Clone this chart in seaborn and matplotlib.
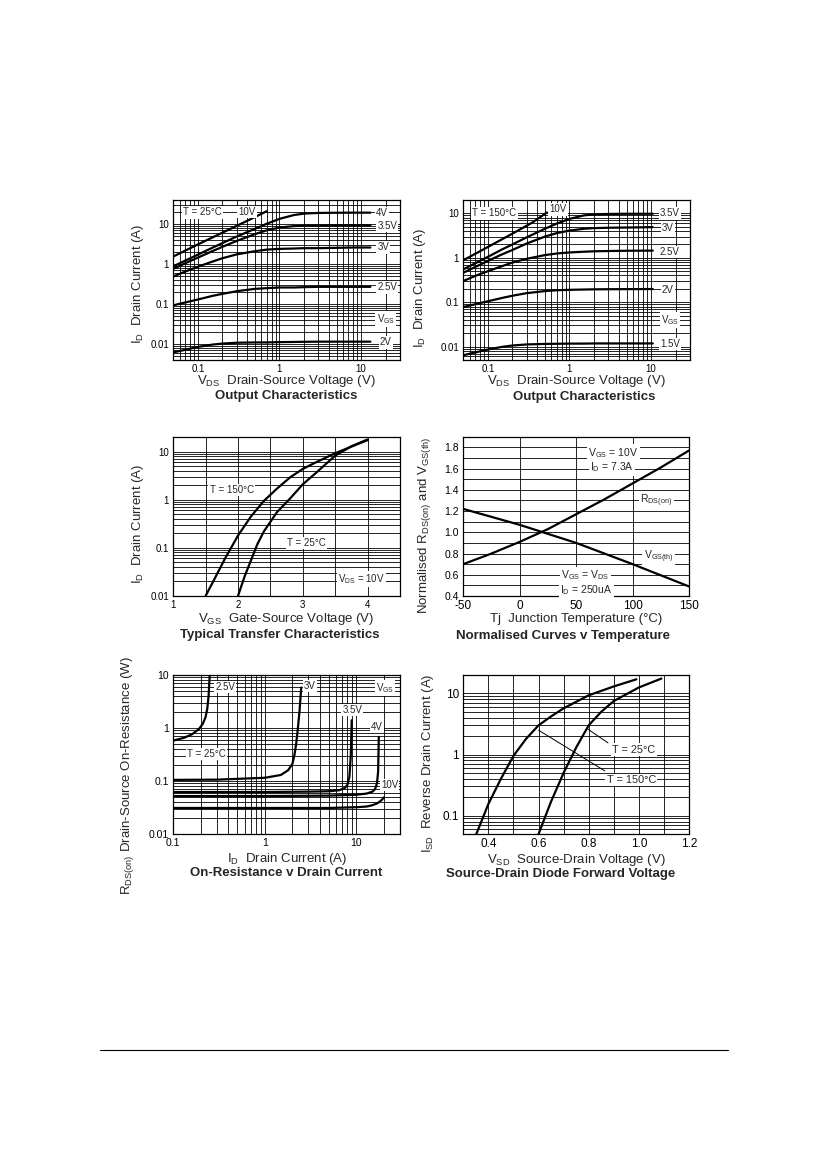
import matplotlib
matplotlib.use("Agg")
import matplotlib.pyplot as plt
import numpy as np
import seaborn as sns
from matplotlib.lines import Line2D
from matplotlib.ticker import FuncFormatter, LogLocator, MultipleLocator, NullFormatter

# ---- Output characteristics, T = 25C ----
vds_25 = [0.05, 0.07, 0.1, 0.15, 0.2, 0.3, 0.5, 0.7, 1, 1.5, 2, 3, 5, 8, 13]
vds_25_10v = [0.05, 0.1, 0.2, 0.4, 0.7]
id_25_10v = [1.55, 3.1, 6.1, 12, 21]
id_25_4v = [0.88, 1.22, 1.72, 2.55, 3.35, 4.9, 7.6, 10.2, 13.5, 16.8, 18.3, 19, 19.2, 19.3, 19.3]
id_25_35v = [0.76, 1.05, 1.45, 2.1, 2.7, 3.8, 5.6, 7.0, 8.2, 8.9, 9.1, 9.2, 9.3, 9.3, 9.3]
id_25_3v = [0.49, 0.65, 0.86, 1.15, 1.4, 1.75, 2.1, 2.3, 2.4, 2.45, 2.5, 2.5, 2.55, 2.6, 2.6]
id_25_25v = [0.093, 0.11, 0.13, 0.16, 0.18, 0.21, 0.24, 0.25, 0.26, 0.26, 0.265, 0.27, 0.27, 0.27, 0.27]
id_25_2v = [0.0062, 0.0072, 0.0085, 0.0097, 0.0103, 0.0108, 0.011, 0.011, 0.0112, 0.0113,
            0.0114, 0.0115, 0.0115, 0.0115, 0.0115]

# ---- Output characteristics, T = 150C ----
vds_150 = [0.05, 0.07, 0.1, 0.15, 0.2, 0.3, 0.5, 0.7, 1, 1.5, 2, 3, 5, 10.5]
vds_150_10v = [0.05, 0.1, 0.2, 0.35, 0.53]
id_150_10v = [0.88, 1.75, 3.5, 6.2, 10.5]
id_150_35v = [0.55, 0.75, 1.05, 1.55, 2.0, 2.9, 4.5, 5.9, 7.5, 9.0, 9.5, 9.7, 9.8, 9.8]
id_150_3v = [0.46, 0.62, 0.85, 1.2, 1.5, 2.1, 3.0, 3.6, 4.1, 4.5, 4.65, 4.75, 4.8, 4.9]
id_150_25v = [0.30, 0.39, 0.5, 0.65, 0.78, 0.95, 1.15, 1.25, 1.32, 1.37, 1.4, 1.42, 1.44, 1.45]
id_150_2v = [0.078, 0.09, 0.105, 0.125, 0.14, 0.16, 0.178, 0.186, 0.19, 0.193, 0.195, 0.196, 0.197, 0.198]
id_150_15v = [0.0064, 0.0074, 0.0086, 0.0099, 0.0106, 0.0112, 0.0115, 0.0116, 0.0117, 0.0117,
              0.0118, 0.0118, 0.0118, 0.0118]

# ---- Transfer characteristics ----
vgs_150 = [1.5, 1.6, 1.8, 2.0, 2.2, 2.4, 2.6, 2.8, 3.0, 3.2, 3.5, 3.75, 4.0]
id_tr_150 = [0.01, 0.018, 0.06, 0.18, 0.45, 0.95, 1.7, 2.9, 4.4, 6.0, 9.3, 12.8, 17.5]
vgs_25 = [2.0, 2.1, 2.2, 2.3, 2.4, 2.6, 2.8, 3.0, 3.2, 3.5, 3.75, 4.0]
id_tr_25 = [0.01, 0.025, 0.055, 0.12, 0.22, 0.55, 1.05, 2.1, 3.6, 8.3, 13, 18]

# ---- Normalised curves v temperature ----
tj = [-50, -25, 0, 25, 50, 75, 100, 125, 150]
rds_norm = [0.70, 0.80, 0.91, 1.03, 1.17, 1.31, 1.46, 1.61, 1.77]
vth_norm = [1.22, 1.145, 1.07, 0.985, 0.90, 0.80, 0.70, 0.595, 0.49]

# ---- On-resistance v drain current ----
id_r25v = [0.1, 0.13, 0.16, 0.19, 0.21, 0.225, 0.235, 0.243, 0.25]
r_25v = [0.58, 0.65, 0.76, 0.95, 1.2, 1.6, 2.3, 4.0, 10]
id_r3v = [0.1, 0.3, 1.0, 1.5, 1.8, 2.0, 2.1, 2.2, 2.3, 2.4, 2.5]
r_3v = [0.105, 0.106, 0.115, 0.13, 0.16, 0.21, 0.3, 0.5, 1.0, 2.2, 5.8]
id_r35v = [0.1, 1, 3, 5, 6.5, 7.5, 8.0, 8.4, 8.7, 8.9]
r_35v = [0.062, 0.062, 0.063, 0.064, 0.067, 0.074, 0.085, 0.12, 0.3, 1.4]
id_r4v = [0.1, 1, 5, 10, 13, 15, 16, 16.8, 17.3, 17.6]
r_4v = [0.052, 0.052, 0.053, 0.055, 0.058, 0.063, 0.07, 0.09, 0.15, 0.68]
id_r10v = [0.1, 1, 5, 10, 13, 15, 17, 19, 20]
r_10v = [0.031, 0.031, 0.031, 0.032, 0.033, 0.035, 0.038, 0.044, 0.049]

# ---- Source-drain diode forward voltage ----
vsd_150 = [0.352, 0.4, 0.45, 0.5, 0.55, 0.6, 0.65, 0.7, 0.8, 0.9, 0.99]
isd_150 = [0.05, 0.155, 0.4, 0.95, 1.8, 3.0, 4.2, 5.7, 9.3, 13, 17]
vsd_25 = [0.6, 0.65, 0.7, 0.75, 0.8, 0.85, 0.9, 1.0, 1.09]
isd_25 = [0.05, 0.17, 0.5, 1.3, 3.0, 5.0, 7.5, 12.5, 17.5]

sns.set_theme(style="white")
plt.rcParams["font.family"] = ["Liberation Sans", "DejaVu Sans"]
plt.rcParams["mathtext.fontset"] = "custom"
plt.rcParams["mathtext.rm"] = "Liberation Sans"
plt.rcParams["mathtext.it"] = "Liberation Sans"
plt.rcParams["mathtext.bf"] = "Liberation Sans:bold"
plt.rcParams["mathtext.default"] = "regular"

LW = 1.6
LABEL = 9.5
NOTE = 7
BOX = dict(boxstyle="square,pad=0.12", fc="white", ec="none")
fmt_g = FuncFormatter(lambda v, p: f"{v:g}")
fmt_1 = FuncFormatter(lambda v, p: f"{v:.1f}")


def frame(ax, xlim, ylim, xlog=True, ylog=True, tick_size=7, xtick_size=None):
    if xlog:
        ax.set_xscale("log")
    if ylog:
        ax.set_yscale("log")
    ax.set_xlim(xlim)
    ax.set_ylim(ylim)
    for axis, log in ((ax.xaxis, xlog), (ax.yaxis, ylog)):
        if log:
            axis.set_major_locator(LogLocator(base=10))
            axis.set_minor_locator(LogLocator(base=10, subs=np.arange(2, 10), numticks=20))
            axis.set_major_formatter(fmt_g)
            axis.set_minor_formatter(NullFormatter())
    ax.grid(True, which="both", color="black", lw=0.6)
    ax.tick_params(which="both", length=0, labelsize=tick_size, pad=3, colors="black")
    if xtick_size:
        ax.tick_params(axis="x", labelsize=xtick_size)
    for s in ax.spines.values():
        s.set_color("black")
        s.set_linewidth(0.9)


def labels(ax, xlabel, ylabel, title, xl_y, yl_xy, t_y, t_x=0.5):
    ax.set_xlabel(xlabel, fontsize=LABEL, va="center")
    ax.xaxis.set_label_coords(0.5, xl_y)
    ax.set_ylabel(ylabel, fontsize=LABEL, va="center")
    ax.yaxis.set_label_coords(*yl_xy)
    ax.text(t_x, t_y, title, transform=ax.transAxes, ha="center", va="center",
            fontsize=LABEL, fontweight="bold")


def curve(ax, x, y):
    sns.lineplot(x=x, y=y, ax=ax, color="black", lw=LW, estimator=None, sort=False)


def note(ax, x, y, s, size=NOTE):
    ax.text(x, y, s, ha="center", va="center", fontsize=size, bbox=BOX, zorder=5)


fig = plt.figure(figsize=(8.26, 11.69), dpi=100)
W, H = 826, 1169


def axes_px(left, top, right, bottom):
    return fig.add_axes([left / W, 1 - bottom / H, (right - left) / W, (bottom - top) / H])


# Panel 1
ax1 = axes_px(173.3, 200, 400, 360)
frame(ax1, (0.05, 30), (0.004, 40))
curve(ax1, vds_25_10v, id_25_10v)
for ys in (id_25_4v, id_25_35v, id_25_3v, id_25_25v, id_25_2v):
    curve(ax1, vds_25, ys)
note(ax1, 0.115, 19.5, "T = 25°C")
note(ax1, 0.40, 20, "10V")
note(ax1, 18, 18.5, "4V")
note(ax1, 21, 9.2, "3.5V")
note(ax1, 18.7, 2.6, "3V")
note(ax1, 21, 0.26, "2.5V")
note(ax1, 20, 0.043, "$V_{GS}$")
note(ax1, 20, 0.011, "2V")
labels(ax1, "$V_{DS}$  Drain-Source Voltage (V)", "$I_{D}$  Drain Current (A)",
       "Output Characteristics", -0.131, (-0.156, 0.475), -0.225)

# Panel 2
ax2 = axes_px(463.3, 200, 690, 360)
frame(ax2, (0.05, 30), (0.005, 20))
curve(ax2, vds_150_10v, id_150_10v)
for ys in (id_150_35v, id_150_3v, id_150_25v, id_150_2v, id_150_15v):
    curve(ax2, vds_150, ys)
note(ax2, 0.12, 10, "T = 150°C")
note(ax2, 0.72, 12.3, "10V")
note(ax2, 17, 10, "3.5V")
note(ax2, 16, 4.6, "3V")
note(ax2, 17, 1.37, "2.5V")
note(ax2, 16, 0.19, "2V")
note(ax2, 17, 0.04, "$V_{GS}$")
note(ax2, 17, 0.0115, "1.5V")
labels(ax2, "$V_{DS}$  Drain-Source Voltage (V)", "$I_{D}$  Drain Current (A)",
       "Output Characteristics", -0.13, (-0.191, 0.45), -0.23, 0.535)

# Panel 3
ax3 = axes_px(173.3, 437.3, 400, 595.7)
frame(ax3, (1, 4.5), (0.01, 20), xlog=False)
ax3.xaxis.set_major_locator(MultipleLocator(1))
ax3.xaxis.set_minor_locator(MultipleLocator(0.5))
ax3.xaxis.set_major_formatter(fmt_g)
curve(ax3, vgs_150, id_tr_150)
curve(ax3, vgs_25, id_tr_25)
note(ax3, 1.9, 1.6, "T = 150°C")
note(ax3, 3.05, 0.126, "T = 25°C")
note(ax3, 3.9, 0.022, "$V_{DS}$ = 10V")
labels(ax3, "$V_{GS}$  Gate-Source Voltage (V)", "$I_{D}$  Drain Current (A)",
       "Typical Transfer Characteristics", -0.147, (-0.156, 0.453), -0.245, 0.47)

# Panel 4
ax4 = axes_px(463.3, 436.7, 689, 596)
frame(ax4, (-50, 150), (0.4, 1.9), xlog=False, ylog=False, tick_size=7.5, xtick_size=8.5)
ax4.xaxis.set_major_locator(MultipleLocator(50))
ax4.yaxis.set_major_locator(MultipleLocator(0.2))
ax4.yaxis.set_minor_locator(MultipleLocator(0.1))
ax4.yaxis.set_major_formatter(fmt_1)
ax4.xaxis.set_major_formatter(fmt_g)
curve(ax4, tj, rds_norm)
curve(ax4, tj, vth_norm)
note(ax4, 83, 1.75, "$V_{GS}$ = 10V", 7.5)
note(ax4, 81.5, 1.61, "$I_{D}$ = 7.3A", 7.5)
note(ax4, 121, 1.30, "$R_{DS(on)}$", 7.5)
note(ax4, 123, 0.77, "$V_{GS(th)}$", 7.5)
note(ax4, 58, 0.60, "$V_{GS}$ = $V_{DS}$", 7.5)
note(ax4, 59, 0.46, "$I_{D}$ = 250uA", 7.5)
labels(ax4, "Tj  Junction Temperature (°C)", "Normalised $R_{DS(on)}$ and $V_{GS(th)}$",
       "Normalised Curves v Temperature", -0.144, (-0.17, 0.446), -0.25, 0.44)

# Panel 5
ax5 = axes_px(173.3, 675, 400, 834)
frame(ax5, (0.1, 30), (0.01, 10), tick_size=7.5)
for xs, ys in ((id_r25v, r_25v), (id_r3v, r_3v), (id_r35v, r_35v), (id_r4v, r_4v), (id_r10v, r_10v)):
    curve(ax5, xs, ys)
note(ax5, 0.37, 6.0, "2.5V")
note(ax5, 3.1, 6.2, "3V")
note(ax5, 20.5, 5.6, "$V_{GS}$")
note(ax5, 9.0, 2.2, "3.5V")
note(ax5, 16.8, 1.06, "4V")
note(ax5, 0.23, 0.32, "T = 25°C")
note(ax5, 23, 0.085, "10V")
labels(ax5, "$I_{D}$  Drain Current (A)", "$R_{DS(on)}$ Drain-Source On-Resistance (W)",
       "On-Resistance v Drain Current", -0.157, (-0.202, 0.365), -0.245)

# Panel 6
ax6 = axes_px(463.3, 675, 689, 834)
frame(ax6, (0.3, 1.2), (0.05, 20), xlog=False, tick_size=8.5)
ax6.xaxis.set_major_locator(MultipleLocator(0.2))
ax6.xaxis.set_minor_locator(MultipleLocator(0.1))
ax6.xaxis.set_major_formatter(fmt_1)
curve(ax6, vsd_150, isd_150)
curve(ax6, vsd_25, isd_25)
ax6.annotate("", xy=(0.797, 2.6), xytext=(0.877, 1.55),
             arrowprops=dict(arrowstyle="-", lw=0.7, color="black", shrinkA=0, shrinkB=0))
ax6.annotate("", xy=(0.6, 2.5), xytext=(0.864, 0.54),
             arrowprops=dict(arrowstyle="-", lw=0.7, color="black", shrinkA=0, shrinkB=0))
note(ax6, 0.98, 1.2, "T = 25°C", 7.8)
note(ax6, 0.97, 0.38, "T = 150°C", 7.8)
labels(ax6, "$V_{SD}$  Source-Drain Voltage (V)", "$I_{SD}$  Reverse Drain Current (A)",
       "Source-Drain Diode Forward Voltage", -0.165, (-0.155, 0.447), -0.25, 0.43)

# page rule
fig.add_artist(Line2D([100 / W, 728 / W], [1 - 1050 / H, 1 - 1050 / H], color="black", lw=0.8))

fig.savefig("out.png", dpi=100, facecolor="white")
